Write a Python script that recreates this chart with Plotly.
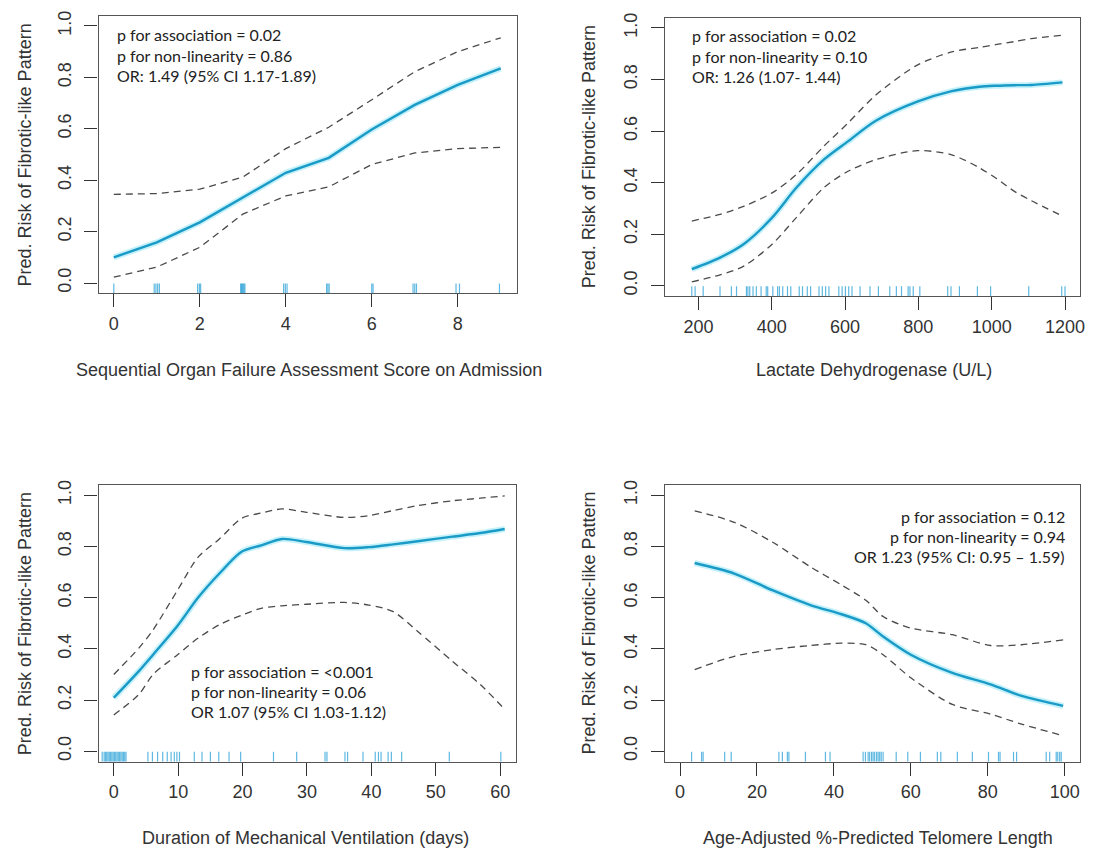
import plotly.graph_objects as go

# ---------------- Data ----------------
# Panel 1: SOFA score
sofa_x = [0, 1, 2, 3, 4, 5, 6, 7, 8, 9]
sofa_fit = [0.100, 0.158, 0.236, 0.332, 0.429, 0.487, 0.597, 0.693, 0.771, 0.835]
sofa_upper = [0.345, 0.348, 0.365, 0.412, 0.523, 0.606, 0.713, 0.822, 0.900, 0.954]
sofa_lower = [0.023, 0.062, 0.139, 0.268, 0.339, 0.374, 0.461, 0.506, 0.523, 0.528]
sofa_rug = [0.0, 0.94, 0.98, 1.02, 1.06, 1.95, 1.99, 2.02, 2.95, 2.97, 2.99, 3.01, 3.03,
            3.05, 3.95, 3.99, 4.03, 4.95, 4.98, 5.01, 6.0, 6.03, 6.96, 7.0, 7.04, 7.96,
            8.04, 8.97]

# Panel 2: LDH
ldh_x = [182, 259, 325, 401, 467, 542, 608, 684, 797, 891, 967, 1014, 1061, 1108, 1193]
ldh_fit = [0.064, 0.109, 0.163, 0.264, 0.380, 0.489, 0.560, 0.640, 0.714, 0.755, 0.772,
           0.776, 0.778, 0.779, 0.789]
ldh_upper = [0.251, 0.277, 0.309, 0.360, 0.431, 0.541, 0.631, 0.740, 0.856, 0.907, 0.925,
             0.936, 0.947, 0.959, 0.972]
ldh_lower = [0.015, 0.042, 0.077, 0.161, 0.264, 0.380, 0.444, 0.489, 0.524, 0.508, 0.457,
             0.415, 0.367, 0.330, 0.270]
ldh_rug = [182, 191, 213, 259, 290, 304, 331, 335, 340, 349, 358, 371, 385, 389, 403, 416,
           421, 430, 443, 452, 475, 484, 497, 506, 529, 538, 547, 556, 583, 592, 601, 610,
           619, 641, 668, 691, 722, 740, 754, 772, 777, 786, 804, 880, 889, 912, 961, 997,
           1101, 1191, 1200]

# Panel 3: Duration of mechanical ventilation
mv_x = [0, 3.9, 6.1, 9.9, 13.1, 16.4, 19.9, 22.9, 26.1, 29.9, 35.8, 39.6, 43.4, 47.2,
        52.6, 56.9, 60.7]
mv_fit = [0.209, 0.313, 0.377, 0.490, 0.600, 0.694, 0.780, 0.804, 0.829, 0.817, 0.793,
          0.797, 0.808, 0.820, 0.838, 0.852, 0.868]
mv_upper = [0.300, 0.403, 0.474, 0.629, 0.758, 0.829, 0.910, 0.930, 0.946, 0.933, 0.913,
            0.920, 0.940, 0.959, 0.978, 0.988, 0.997]
mv_lower = [0.142, 0.222, 0.300, 0.377, 0.442, 0.494, 0.532, 0.558, 0.568, 0.574, 0.581,
            0.571, 0.545, 0.468, 0.351, 0.261, 0.164]
mv_rug = [-1.8, -1.5, -1.3, -1.1, -0.9, -0.7, -0.5, -0.3, -0.1, 0.1, 0.3, 0.5, 0.7, 0.9,
          1.1, 1.3, 1.5, 1.7, 1.9, 5.3, 6.0, 6.8, 7.6, 8.3, 8.9, 9.4, 9.8, 10.2, 12.5,
          13.7, 15.0, 16.3, 17.9, 19.7, 24.8, 28.4, 32.8, 33.1, 35.9, 36.3, 38.7, 40.6,
          41.1, 41.5, 42.6, 43.1, 44.7, 52.1, 60.1]

# Panel 4: Telomere length
tl_x = [3.8, 14.1, 24.0, 33.9, 42.0, 48.3, 52.8, 60.0, 70.8, 80.7, 88.8, 99.6]
tl_fit = [0.735, 0.694, 0.629, 0.571, 0.535, 0.500, 0.448, 0.377, 0.306, 0.261, 0.216, 0.177]
tl_upper = [0.939, 0.894, 0.817, 0.720, 0.649, 0.590, 0.526, 0.481, 0.455, 0.413, 0.416, 0.435]
tl_lower = [0.319, 0.371, 0.397, 0.413, 0.422, 0.416, 0.377, 0.287, 0.183, 0.145, 0.106, 0.061]
tl_rug = [3.0, 5.6, 6.0, 11.6, 13.3, 25.7, 26.6, 27.9, 28.3, 32.6, 37.8, 39.0, 47.6, 48.2,
          48.9, 49.3, 49.8, 50.2, 50.6, 51.1, 51.5, 51.9, 52.3, 52.8, 56.2, 59.2, 62.5,
          66.9, 67.8, 72.1, 76.0, 80.2, 82.8, 83.2, 86.7, 87.5, 95.2, 96.1, 97.8, 98.2,
          98.7, 99.1]

x_titles = ["Sequential Organ Failure Assessment Score on Admission",
            "Lactate Dehydrogenase (U/L)",
            "Duration of Mechanical Ventilation (days)",
            "Age-Adjusted %-Predicted Telomere Length"]
y_title = "Pred. Risk of Fibrotic-like Pattern"

stats_texts = [
    ["p for association = 0.02", "p for non-linearity = 0.86", "OR: 1.49 (95% CI 1.17-1.89)"],
    ["p for association = 0.02", "p for non-linearity = 0.10", "OR: 1.26 (1.07- 1.44)"],
    ["p for association = <0.001", "p for non-linearity = 0.06", "OR 1.07 (95% CI 1.03-1.12)"],
    ["p for association = 0.12", "p for non-linearity = 0.94", "OR 1.23 (95% CI: 0.95 \u2013 1.59)"],
]

x_ticks = [[0, 2, 4, 6, 8], [200, 400, 600, 800, 1000, 1200],
           [0, 10, 20, 30, 40, 50, 60], [0, 20, 40, 60, 80, 100]]
y_ticks = [0.0, 0.2, 0.4, 0.6, 0.8, 1.0]

# ---------------- Layout geometry ----------------
OFF = 8                      # default page margin of the browser body
W, H = 1096 - OFF, 852 - OFF  # figure size so the page fills the window exactly


def fx(px):
    return (px - OFF) / W


def fy(py):
    return 1 - (py - OFF) / H


panels = [
    dict(px=(99, 519), py=(10.7, 290), xr=[-0.354, 9.37]),
    dict(px=(667.7, 1085), py=(12.7, 292.7), xr=[108, 1241]),
    dict(px=(99, 518.3), py=(482.7, 761), xr=[-2.36, 62.45]),
    dict(px=(667.7, 1085), py=(482.7, 761), xr=[-4.0, 104]),
]
YR = [-0.04, 1.04]

series = [
    (sofa_x, sofa_fit, sofa_upper, sofa_lower, sofa_rug, "linear"),
    (ldh_x, ldh_fit, ldh_upper, ldh_lower, ldh_rug, "spline"),
    (mv_x, mv_fit, mv_upper, mv_lower, mv_rug, "spline"),
    (tl_x, tl_fit, tl_upper, tl_lower, tl_rug, "spline"),
]

# annotation anchor (data coords): x, y of first line, xanchor
stat_pos = [(0.02, 0.965, "left"), (176, 0.969, "left"), (11.7, 0.31, "left"), (100.5, 0.916, "right")]
line_step = 0.078

title_x_px = [310, 878, 307, 882]
title_y_px = [367, 367, 838, 838]
ytitle_x_px = [25, 592, 25, 592]

LINE_COL = "#1a9ac6"
CI_COL = "#4a4a4a"
RUG_COL = "rgba(40,160,215,0.75)"
AXIS_COL = "#555555"
TXT_COL = "#333333"
FONT = "Liberation Sans, Arial, sans-serif"

fig = go.Figure()
annotations = []
layout = dict(width=W, height=H, margin=dict(l=0, r=0, t=0, b=0, pad=0),
              paper_bgcolor="white", plot_bgcolor="white", showlegend=False,
              font=dict(family=FONT, size=18, color=TXT_COL))

for i, (p, s) in enumerate(zip(panels, series)):
    k = "" if i == 0 else str(i + 1)
    xa, ya = "x" + k, "y" + k
    xs, fit, up, lo, rug, shape = s
    fig.add_trace(go.Scatter(x=xs, y=up, xaxis=xa, yaxis=ya, mode="lines",
                             line=dict(color=CI_COL, width=1.3, dash="7px,5px", shape=shape, smoothing=0.8)))
    fig.add_trace(go.Scatter(x=xs, y=lo, xaxis=xa, yaxis=ya, mode="lines",
                             line=dict(color=CI_COL, width=1.3, dash="7px,5px", shape=shape, smoothing=0.8)))
    fig.add_trace(go.Scatter(x=xs, y=fit, xaxis=xa, yaxis=ya, mode="lines",
                             line=dict(color="rgba(90,215,240,0.35)", width=6, shape=shape, smoothing=0.8)))
    fig.add_trace(go.Scatter(x=xs, y=fit, xaxis=xa, yaxis=ya, mode="lines",
                             line=dict(color=LINE_COL, width=2.4, shape=shape, smoothing=0.8)))
    fig.add_trace(go.Scatter(x=rug, y=[-0.021] * len(rug), xaxis=xa, yaxis=ya, mode="markers",
                             cliponaxis=False,
                             marker=dict(symbol="line-ns", size=7,
                                         line=dict(color=RUG_COL, width=1.2))))

    dx = [fx(p["px"][0]), fx(p["px"][1])]
    dy = [fy(p["py"][1]), fy(p["py"][0])]
    layout["xaxis" + k] = dict(domain=dx, range=p["xr"], anchor=ya, tickvals=x_ticks[i],
                               ticks="outside", ticklen=13, tickcolor="#333", tickwidth=1.2,
                               showline=True, linecolor=AXIS_COL, linewidth=1.3, mirror=True,
                               showgrid=False, zeroline=False, ticklabelstandoff=1,
                               tickfont=dict(family=FONT, size=18, color=TXT_COL))
    layout["yaxis" + k] = dict(domain=dy, range=YR, anchor=xa, tickvals=y_ticks, tickformat=".1f",
                               ticks="outside", ticklen=13, tickcolor="#333", tickwidth=1.2,
                               showline=True, linecolor=AXIS_COL, linewidth=1.3, mirror=True,
                               showgrid=False, zeroline=False, tickangle=-90, ticklabelstandoff=6,
                               tickfont=dict(family=FONT, size=18, color=TXT_COL))

    # stats text
    sx, sy, anc = stat_pos[i]
    for j, t in enumerate(stats_texts[i]):
        annotations.append(dict(x=sx, y=sy - j * line_step, xref=xa, yref=ya, text=t,
                                showarrow=False, xanchor=anc, yanchor="middle",
                                font=dict(family="Lato", size=16, color="#222")))
    # axis titles
    annotations.append(dict(x=fx(title_x_px[i]), y=fy(title_y_px[i]), xref="paper", yref="paper",
                            text=x_titles[i], showarrow=False, xanchor="center", yanchor="middle",
                            font=dict(family=FONT, size=18, color=TXT_COL)))
    annotations.append(dict(x=fx(ytitle_x_px[i]), y=fy(sum(p["py"]) / 2), xref="paper", yref="paper",
                            text=y_title, showarrow=False, textangle=-90, xanchor="center", yanchor="middle",
                            font=dict(family=FONT, size=18, color=TXT_COL)))

layout["annotations"] = annotations
fig.update_layout(**layout)
fig.write_html("out.html")
